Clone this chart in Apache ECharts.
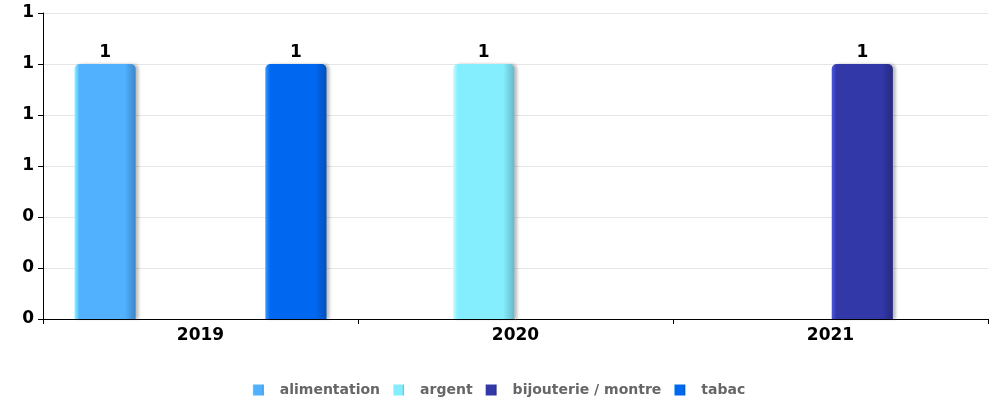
<!DOCTYPE html>
<html>
<head>
<meta charset="utf-8">
<script src="https://cdn.jsdelivr.net/npm/echarts@6/dist/echarts.min.js"></script>
<style>html,body{margin:0;padding:0;background:#fff}#c{width:998px;height:404px}</style>
</head>
<body>
<div id="c"></div>
<script>
const categories = ['2019', '2020', '2021'];
const seriesNames = ['alimentation', 'argent', 'bijouterie / montre', 'tabac'];
const alimentation = [1, null, null];
const argent = [null, 1, null];
const bijouterie = [null, null, 1];
const tabac = [1, null, null];
const colors = [
  ['#8ef6ff', '#52b1ff', '#3d86c8'],
  ['#c4ffff', '#84eeff', '#66b8c8'],
  ['#4d57e0', '#3238a8', '#252a80'],
  ['#3a9bff', '#0068f0', '#0050b8']
];
const values = [alimentation, argent, bijouterie, tabac];

const chart = echarts.init(document.getElementById('c'));
const font = 'DejaVu Sans';
chart.setOption({
  animation: false,
  color: colors.map(c => c[1]),
  grid: {left: 43, right: 10, top: 13, bottom: 85, containLabel: false},
  legend: {
    bottom: 2, left: 'center', itemWidth: 11, itemHeight: 11, itemGap: 13,
    icon: 'rect',
    textStyle: {fontFamily: font, fontWeight: 'bold', fontSize: 14, color: '#666', padding: [0, 0, 0, 11]},
    data: seriesNames
  },
  xAxis: {
    type: 'category', data: categories,
    axisLine: {lineStyle: {color: '#000', width: 1}},
    axisTick: {show: true, lineStyle: {color: '#000'}},
    axisLabel: {fontFamily: font, fontWeight: 'bold', fontSize: 17, color: '#000', margin: 8}
  },
  yAxis: {
    type: 'value', min: 0, max: 1.2, interval: 0.2,
    axisLine: {show: true, lineStyle: {color: '#000'}},
    axisTick: {show: true, length: 5, lineStyle: {color: '#000'}},
    axisLabel: {fontFamily: font, fontWeight: 'bold', fontSize: 17, color: '#000', margin: 9,
      formatter: v => String(Math.round(v))},
    splitLine: {lineStyle: {color: '#e6e6e6'}}
  },
  series: seriesNames.map((name, i) => ({
    name, type: 'bar', data: values[i],
    barGap: '4%', barCategoryGap: '20%',
    itemStyle: {
      borderRadius: [5, 5, 0, 0],
      color: new echarts.graphic.LinearGradient(0, 0, 1, 0, [
        {offset: 0, color: colors[i][0]},
        {offset: 0.08, color: colors[i][1]},
        {offset: 0.82, color: colors[i][1]},
        {offset: 1, color: colors[i][2]}
      ]),
      shadowColor: 'rgba(0,0,0,0.25)', shadowBlur: 3, shadowOffsetX: 3
    },
    label: {show: true, position: 'top', distance: 3, fontFamily: font, fontWeight: 'bold', fontSize: 17, color: '#000',
      formatter: p => String(Math.round(p.value))}
  }))
});
</script>
</body>
</html>
